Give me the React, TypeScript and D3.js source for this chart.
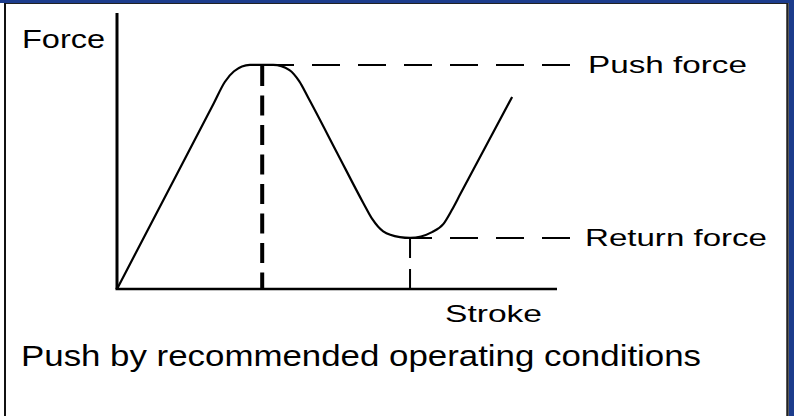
import React from "react";
import * as d3 from "d3";

// ---- data (stroke %, force %) ----
const strokeVals = [0, 12, 22, 24.5, 26.6, 30.2, 33, 35.5, 39.2, 41.4, 43.5, 50, 56, 58, 60.5, 64.3, 66.6, 71.6, 74.2, 76.1, 78, 84, 89.8];
const forceVals = [0, 36.7, 67.3, 75, 78.9, 81.2, 81.2, 81.2, 79.3, 75.3, 69.2, 49.4, 31.1, 25.4, 20.9, 18.8, 18.5, 20.6, 23.6, 28.6, 34.3, 52.3, 69.6];
const markerNames = ["Push force", "Return force"];
const markerStroke = [33, 66.6];
const markerForce = [81.2, 18.5];
const axisLabels = ["Force", "Stroke"];
const caption = "Push by recommended operating conditions";

const W = 794;
const H = 416;

export default function App() {
  const x = d3.scaleLinear().domain([0, 100]).range([117, 557]);
  const y = d3.scaleLinear().domain([0, 100]).range([289, 13]);
  const pts = strokeVals.map((s, i) => [s, forceVals[i]] as [number, number]);
  const line = d3
    .line<[number, number]>()
    .x((d) => x(d[0]))
    .y((d) => y(d[1]))
    .curve(d3.curveMonotoneX);

  const guideEnd = 570;
  const labelX = [588, 585];
  const labelLen = [159, 182];
  const font = "'Liberation Sans', Arial, sans-serif";

  return (
    <svg
      width={W}
      height={H}
      style={{ position: "absolute", left: 0, top: 0, background: "#fff" }}
      fontFamily={font}
    >
      {/* frame */}
      <rect x={0} y={0} width={W} height={3} fill="#1c3c8c" />
      <rect x={789} y={0} width={5} height={H} fill="#1c3c8c" />
      <line x1={4} y1={3.5} x2={788} y2={3.5} stroke="#222" strokeWidth={1} />
      <line x1={5} y1={3} x2={5} y2={H} stroke="#111" strokeWidth={2} />
      <line x1={787.5} y1={3} x2={787.5} y2={H} stroke="#222" strokeWidth={2.5} />

      {/* axes */}
      <line x1={x(0)} y1={y(0)} x2={x(0)} y2={y(100)} stroke="#000" strokeWidth={3} />
      <line x1={x(0) - 1.5} y1={y(0)} x2={x(100)} y2={y(0)} stroke="#000" strokeWidth={2.5} />

      {/* guide lines */}
      {markerNames.map((n, i) => (
        <line
          key={n}
          x1={guideEnd}
          y1={y(markerForce[i])}
          x2={x(markerStroke[i])}
          y2={y(markerForce[i])}
          stroke="#000"
          strokeWidth={2}
          strokeDasharray="28 18"
        />
      ))}
      <line
        x1={x(markerStroke[0])}
        y1={y(markerForce[0]) + 1}
        x2={x(markerStroke[0])}
        y2={y(0)}
        stroke="#000"
        strokeWidth={4}
        strokeDasharray="20 9.5"
      />
      <line
        x1={x(markerStroke[1])}
        y1={y(markerForce[1])}
        x2={x(markerStroke[1])}
        y2={y(0)}
        stroke="#000"
        strokeWidth={2}
        strokeDasharray="20 11"
      />

      {/* curve */}
      <path d={line(pts) || ""} fill="none" stroke="#000" strokeWidth={2.2} />

      {/* texts */}
      <text x={22} y={48} fontSize={26} textLength={83} lengthAdjust="spacingAndGlyphs" fill="#000">
        {axisLabels[0]}
      </text>
      <text x={445} y={322} fontSize={24} textLength={97} lengthAdjust="spacingAndGlyphs" fill="#000">
        {axisLabels[1]}
      </text>
      {markerNames.map((n, i) => (
        <text
          key={n}
          x={labelX[i]}
          y={y(markerForce[i]) + 8}
          fontSize={24.5}
          textLength={labelLen[i]}
          lengthAdjust="spacingAndGlyphs"
          fill="#000"
        >
          {n}
        </text>
      ))}
      <text x={21} y={366} fontSize={30} textLength={680} lengthAdjust="spacingAndGlyphs" fill="#000">
        {caption}
      </text>
    </svg>
  );
}
